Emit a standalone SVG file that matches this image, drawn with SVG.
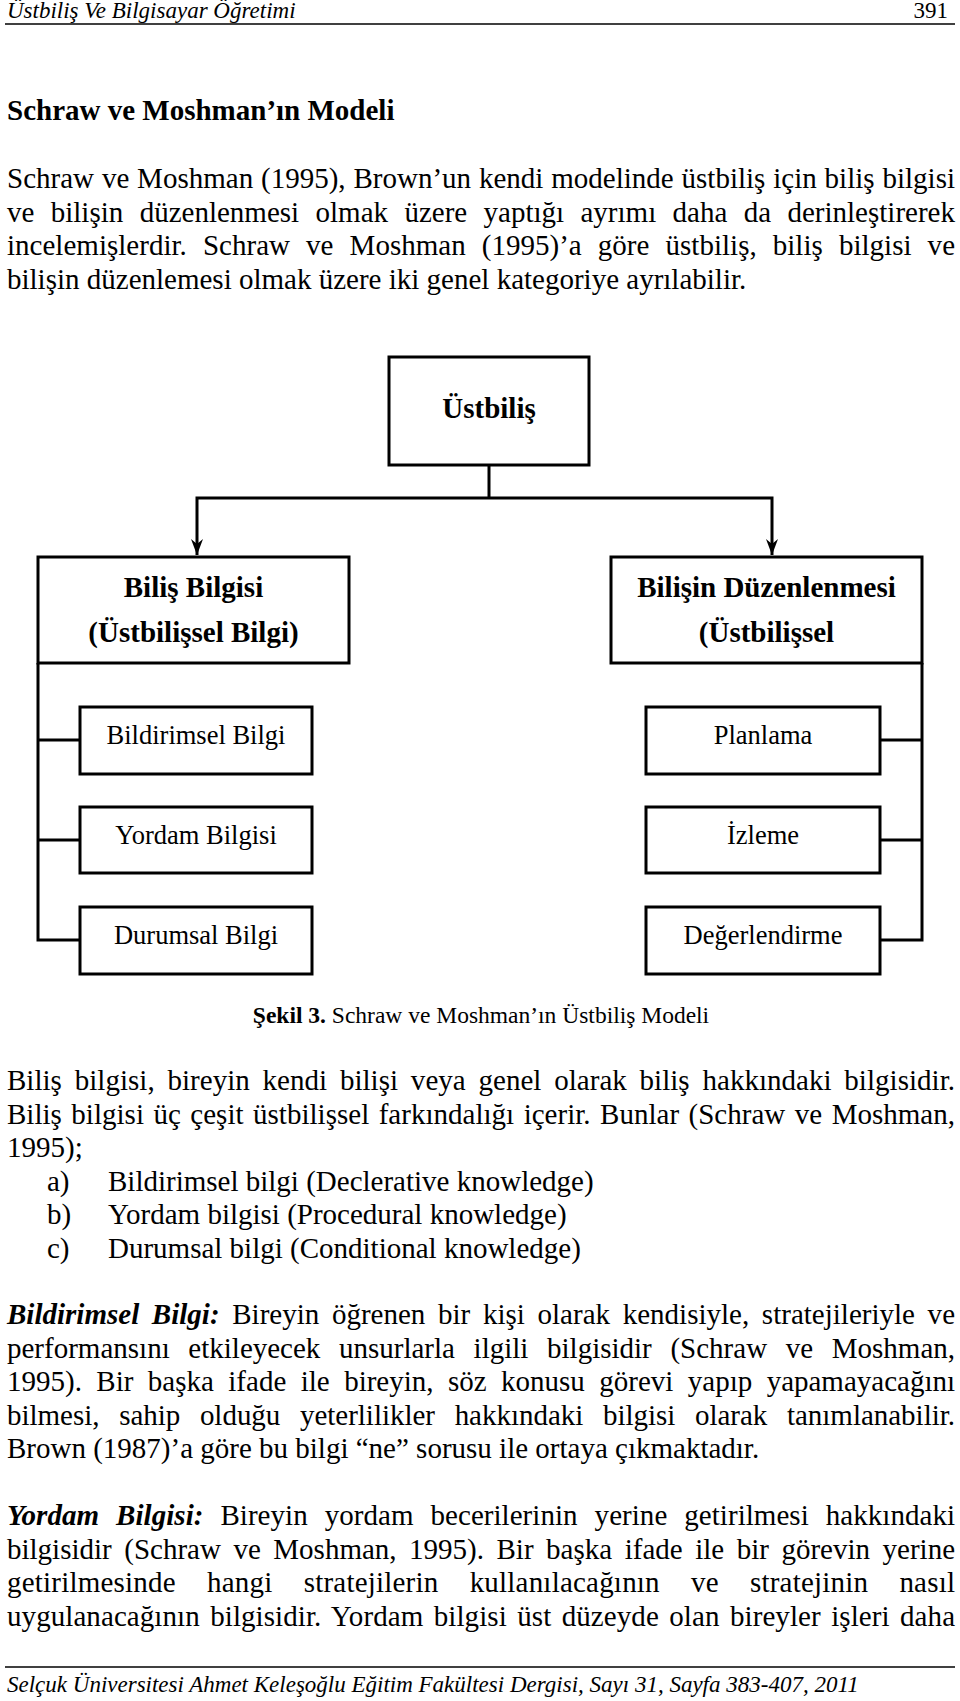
<svg xmlns="http://www.w3.org/2000/svg" width="960" height="1701" viewBox="0 0 960 1701">
<defs>
<style>
text{font-family:"Liberation Serif","Times New Roman",serif;fill:#000}
.t{font-size:29px}
.bd{font-weight:bold}
.bi{font-weight:bold;font-style:italic}
.it{font-style:italic;font-size:23px}
.pg{font-size:23px}
.cap{font-size:23.5px}
.sm{font-size:26.5px}
.box{fill:#fff;stroke:#000;stroke-width:3}
.ln{stroke:#000;stroke-width:3;fill:none}
.rule{stroke:#000;stroke-width:1.6}
</style>
<marker id="arr" viewBox="0 0 12 16" refX="6" refY="16" markerWidth="12" markerHeight="16" markerUnits="userSpaceOnUse" orient="0">
<path d="M0,0 L6,16 L12,0 L6,5 Z" fill="#000"/>
</marker>
</defs>
<rect width="960" height="1701" fill="#fff"/>

<g id="header">
<text class="it" x="7" y="18">Üstbiliş Ve Bilgisayar Öğretimi</text>
<text class="pg" x="948" y="18" text-anchor="end">391</text>
<line class="rule" x1="5" y1="24" x2="955" y2="24"/>
</g>

<g id="intro">
<text class="t bd" x="7" y="120">Schraw ve Moshman’ın Modeli</text>
<text class="t" x="7" y="188" word-spacing="0.6" textLength="948" lengthAdjust="spacing">Schraw ve Moshman (1995), Brown’un kendi modelinde üstbiliş için biliş bilgisi</text>
<text class="t" x="7" y="221.5" word-spacing="9.1" textLength="948" lengthAdjust="spacing">ve bilişin düzenlenmesi olmak üzere yaptığı ayrımı daha da derinleştirerek</text>
<text class="t" x="7" y="255" word-spacing="8.8" textLength="948" lengthAdjust="spacing">incelemişlerdir. Schraw ve Moshman (1995)’a göre üstbiliş, biliş bilgisi ve</text>
<text class="t" x="7" y="288.5">bilişin düzenlemesi olmak üzere iki genel kategoriye ayrılabilir.</text>
</g>

<g id="connectors">
<polyline class="ln" points="489,465 489,498"/>
<polyline class="ln" points="197,555 197,498 772,498 772,555" marker-start="url(#arr)" marker-end="url(#arr)"/>
<polyline class="ln" points="38,663 38,940 80,940"/>
<line class="ln" x1="38" y1="740" x2="80" y2="740"/>
<line class="ln" x1="38" y1="840" x2="80" y2="840"/>
<polyline class="ln" points="922,663 922,940 880,940"/>
<line class="ln" x1="880" y1="740" x2="922" y2="740"/>
<line class="ln" x1="880" y1="840" x2="922" y2="840"/>
</g>

<g id="node-ustbilis">
<rect class="box" x="389" y="357" width="200" height="108"/>
<text class="t bd" x="489" y="418" text-anchor="middle">Üstbiliş</text>
</g>

<g id="node-bilis-bilgisi">
<rect class="box" x="38" y="557" width="311" height="106"/>
<text class="t bd" x="193.5" y="597" text-anchor="middle">Biliş Bilgisi</text>
<text class="t bd" x="193.5" y="642" text-anchor="middle">(Üstbilişsel Bilgi)</text>
</g>

<g id="node-bilisin-duzenlenmesi">
<rect class="box" x="611" y="557" width="311" height="106"/>
<text class="t bd" x="766.5" y="597" text-anchor="middle">Bilişin Düzenlenmesi</text>
<text class="t bd" x="766.5" y="642" text-anchor="middle">(Üstbilişsel</text>
</g>

<g id="node-bildirimsel">
<rect class="box" x="80" y="707" width="232" height="67"/>
<text class="sm" x="196" y="744" text-anchor="middle">Bildirimsel Bilgi</text>
</g>
<g id="node-yordam">
<rect class="box" x="80" y="807" width="232" height="66"/>
<text class="sm" x="196" y="844" text-anchor="middle">Yordam Bilgisi</text>
</g>
<g id="node-durumsal">
<rect class="box" x="80" y="907" width="232" height="67"/>
<text class="sm" x="196" y="944" text-anchor="middle">Durumsal Bilgi</text>
</g>
<g id="node-planlama">
<rect class="box" x="646" y="707" width="234" height="67"/>
<text class="sm" x="763" y="744" text-anchor="middle">Planlama</text>
</g>
<g id="node-izleme">
<rect class="box" x="646" y="807" width="234" height="66"/>
<text class="sm" x="763" y="844" text-anchor="middle">İzleme</text>
</g>
<g id="node-degerlendirme">
<rect class="box" x="646" y="907" width="234" height="67"/>
<text class="sm" x="763" y="944" text-anchor="middle">Değerlendirme</text>
</g>

<g id="caption">
<text class="cap" x="481" y="1023" text-anchor="middle"><tspan class="bd">Şekil 3.</tspan> Schraw ve Moshman’ın Üstbiliş Modeli</text>
</g>

<g id="body">
<text class="t" x="7" y="1090" word-spacing="5.5" textLength="948" lengthAdjust="spacing">Biliş bilgisi, bireyin kendi bilişi veya genel olarak biliş hakkındaki bilgisidir.</text>
<text class="t" x="7" y="1123.5" word-spacing="2.2" textLength="948" lengthAdjust="spacing">Biliş bilgisi üç çeşit üstbilişsel farkındalığı içerir. Bunlar (Schraw ve Moshman,</text>
<text class="t" x="7" y="1157">1995);</text>
<text class="t" x="47" y="1190.5">a)</text>
<text class="t" x="108" y="1190.5">Bildirimsel bilgi (Declerative knowledge)</text>
<text class="t" x="47" y="1224">b)</text>
<text class="t" x="108" y="1224">Yordam bilgisi (Procedural knowledge)</text>
<text class="t" x="47" y="1257.5">c)</text>
<text class="t" x="108" y="1257.5">Durumsal bilgi (Conditional knowledge)</text>

<text class="t" x="7" y="1324" word-spacing="5.4" textLength="948" lengthAdjust="spacing"><tspan class="bi">Bildirimsel Bilgi:</tspan> Bireyin öğrenen bir kişi olarak kendisiyle, stratejileriyle ve</text>
<text class="t" x="7" y="1357.5" word-spacing="11.4" textLength="948" lengthAdjust="spacing">performansını etkileyecek unsurlarla ilgili bilgisidir (Schraw ve Moshman,</text>
<text class="t" x="7" y="1391" word-spacing="7.2" textLength="948" lengthAdjust="spacing">1995). Bir başka ifade ile bireyin, söz konusu görevi yapıp yapamayacağını</text>
<text class="t" x="7" y="1424.5" word-spacing="12.4" textLength="948" lengthAdjust="spacing">bilmesi, sahip olduğu yeterlilikler hakkındaki bilgisi olarak tanımlanabilir.</text>
<text class="t" x="7" y="1458">Brown (1987)’a göre bu bilgi “ne” sorusu ile ortaya çıkmaktadır.</text>

<text class="t" x="7" y="1525" word-spacing="9.7" textLength="948" lengthAdjust="spacing"><tspan class="bi">Yordam Bilgisi:</tspan> Bireyin yordam becerilerinin yerine getirilmesi hakkındaki</text>
<text class="t" x="7" y="1558.5" word-spacing="5.3" textLength="948" lengthAdjust="spacing">bilgisidir (Schraw ve Moshman, 1995). Bir başka ifade ile bir görevin yerine</text>
<text class="t" x="7" y="1592" word-spacing="23.7" textLength="948" lengthAdjust="spacing">getirilmesinde hangi stratejilerin kullanılacağının ve stratejinin nasıl</text>
<text class="t" x="7" y="1625.5" word-spacing="3.1" textLength="948" lengthAdjust="spacing">uygulanacağının bilgisidir. Yordam bilgisi üst düzeyde olan bireyler işleri daha</text>
</g>

<g id="footer">
<line class="rule" x1="5" y1="1667" x2="955" y2="1667"/>
<text class="it" x="7" y="1692">Selçuk Üniversitesi Ahmet Keleşoğlu Eğitim Fakültesi Dergisi, Sayı 31, Sayfa 383-407, 2011</text>
</g>
</svg>
